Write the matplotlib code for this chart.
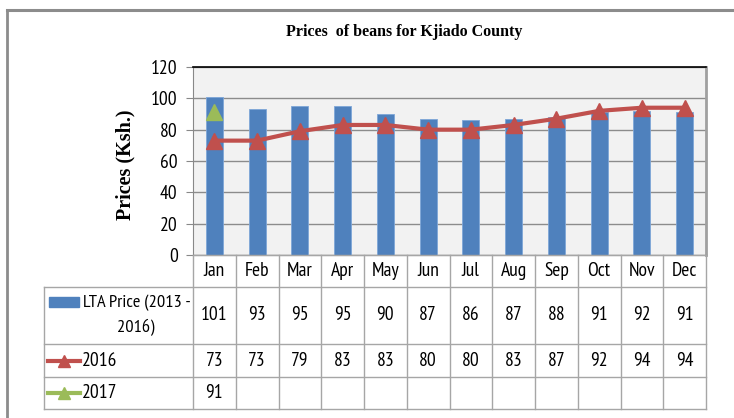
import matplotlib
matplotlib.use("Agg")
import matplotlib.pyplot as plt
from matplotlib.patches import Rectangle
from matplotlib.lines import Line2D
import numpy as np

months = ["Jan", "Feb", "Mar", "Apr", "May", "Jun", "Jul", "Aug", "Sep", "Oct", "Nov", "Dec"]
lta = [101, 93, 95, 95, 90, 87, 86, 87, 88, 91, 92, 91]
y2016 = [73, 73, 79, 83, 83, 80, 80, 83, 87, 92, 94, 94]
y2017 = [91]
series_labels = ["LTA Price (2013 -", "2016)", "2016", "2017"]
yticks = [0, 20, 40, 60, 80, 100, 120]

narrow = ["PT Sans Narrow", "DejaVu Sans"]
serif = ["Liberation Serif", "DejaVu Serif"]
FS = 14
FSL = 13.2

BLUE = "#4F81BD"
RED = "#C0504D"
GREEN = "#9BBB59"

W, H = 734, 418
fig = plt.figure(figsize=(W / 100, H / 100), dpi=100)

def fx(px):
    return px / W

def fy(py):
    return 1 - py / H

# outer border (left and top visible)
fig.add_artist(Line2D([fx(7), fx(7)], [fy(10), fy(418)], color="#8C8C8C", lw=2))
fig.add_artist(Line2D([fx(7), fx(734)], [fy(10), fy(10)], color="#8C8C8C", lw=2.2))

L, R, T, B = 193, 706, 67, 255
ax = fig.add_axes([fx(L), fy(B), fx(R - L), fy(T) - fy(B)])
ax.set_facecolor("#F2F2F2")
x = np.arange(len(months))
ax.bar(x, lta, width=0.4, color=BLUE, edgecolor="#7EA6D8", linewidth=0.6, zorder=2)
ax.plot(x, y2016, color=RED, lw=3, marker="^", markersize=11, zorder=3)
ax.plot(x[:len(y2017)], y2017, color=GREEN, lw=3, marker="^", markersize=11, linestyle="none", zorder=3)
ax.set_xlim(-0.5, len(months) - 0.5)
ax.set_ylim(0, 120)
ax.set_yticks(yticks)
ax.set_yticklabels([str(v) for v in yticks], fontfamily=narrow, fontsize=FS)
ax.yaxis.grid(True, color="#8C8C8C", lw=1, zorder=0)
ax.set_axisbelow(True)
ax.set_xticks([])
ax.tick_params(axis="y", length=5, color="#888888", pad=6)
ax.spines["left"].set_color("#888888")
ax.spines["bottom"].set_color("#888888")
ax.spines["right"].set_color("#A0A0A0")
ax.spines["right"].set_linewidth(2)
ax.spines["top"].set_color("black")
ax.spines["top"].set_linewidth(1.2)

# title and y label
fig.text(fx(404), fy(32), "Prices  of beans for Kjiado County", ha="center", va="center",
         fontfamily=serif, fontweight="bold", fontsize=11.5)
fig.text(fx(125), fy(165), "Prices (Ksh.)", ha="center", va="center", rotation=90,
         fontfamily=serif, fontweight="bold", fontsize=14.5)

# data table
colw = (R - L) / len(months)
row_edges = [255, 287, 344, 377, 409]
tab_left = 44
gc = "#A6A6A6"
fig.add_artist(Line2D([fx(L), fx(R)], [fy(row_edges[0]), fy(row_edges[0])], color=gc, lw=1))
for ry in row_edges[1:]:
    fig.add_artist(Line2D([fx(tab_left), fx(R)], [fy(ry), fy(ry)], color=gc, lw=1))
fig.add_artist(Line2D([fx(tab_left), fx(tab_left)], [fy(row_edges[1]), fy(row_edges[-1])], color=gc, lw=1))
for i in range(len(months) + 1):
    xx = L + i * colw
    fig.add_artist(Line2D([fx(xx), fx(xx)], [fy(row_edges[0]), fy(row_edges[-1])], color=gc, lw=1))

for i, m in enumerate(months):
    cx = L + (i + 0.5) * colw
    fig.text(fx(cx), fy((row_edges[0] + row_edges[1]) / 2), m, ha="center", va="center",
             fontfamily=narrow, fontsize=FS)

rows = [lta, y2016, y2017]
for r, vals in enumerate(rows):
    cy = (row_edges[r + 1] + row_edges[r + 2]) / 2
    for i, v in enumerate(vals):
        cx = L + (i + 0.5) * colw
        fig.text(fx(cx), fy(cy), str(v), ha="center", va="center", fontfamily=narrow, fontsize=FS)

# legend keys in table
fig.add_artist(Rectangle((fx(49), fy(307)), fx(30), fy(297) - fy(307), color=BLUE))
fig.text(fx(83), fy(303), series_labels[0], ha="left", va="center", fontfamily=narrow, fontsize=FSL)
fig.text(fx(155), fy(328), series_labels[1], ha="right", va="center", fontfamily=narrow, fontsize=FSL)
for r, col, lab in [(1, RED, series_labels[2]), (2, GREEN, series_labels[3])]:
    cy = (row_edges[r + 1] + row_edges[r + 2]) / 2
    fig.add_artist(Line2D([fx(48), fx(80)], [fy(cy), fy(cy)], color=col, lw=3))
    fig.add_artist(Line2D([fx(64)], [fy(cy)], color=col, marker="^", markersize=8, lw=0))
    fig.text(fx(82), fy(cy), lab, ha="left", va="center", fontfamily=narrow, fontsize=FS)

fig.savefig("out.png", dpi=100)
